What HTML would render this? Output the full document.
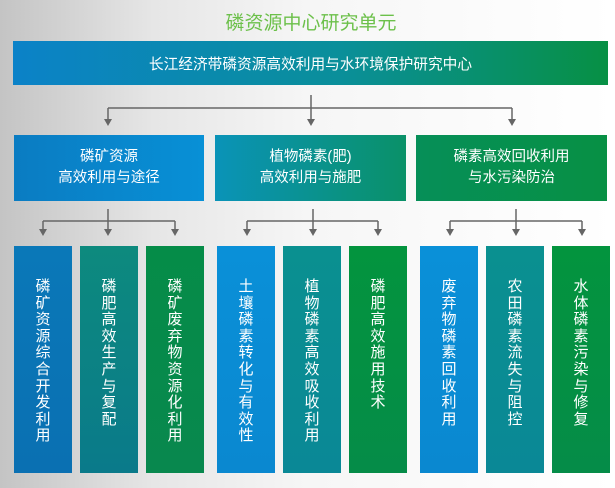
<!DOCTYPE html>
<html><head><meta charset="utf-8"><style>
body{margin:0;width:615px;height:488px;overflow:hidden;background:linear-gradient(90deg,#c4c4c4 0%,#e6e6e6 25%,#f6f6f6 50%,#ffffff 100%);font-family:"Liberation Sans","Noto Sans CJK SC",sans-serif;position:relative}
.b{position:absolute;color:#fff;text-align:center;display:flex;align-items:center;justify-content:center}
.v{position:absolute;top:246px;height:227px;width:58px;color:#fff;font-size:15px;line-height:16.6px;text-align:center;padding-top:33px;box-sizing:border-box}
.v span{display:block;width:16px;margin:0 auto;word-break:break-all}
</style></head><body>
<div style="position:absolute;top:8px;left:0;width:622px;text-align:center;color:#6cc04a;font-size:19px">磷资源中心研究单元</div>
<div class="b" style="left:13px;top:41px;width:595px;height:44px;background:linear-gradient(90deg,#0b82c8,#0a8f9a 55%,#079044);font-size:14.7px">长江经济带磷资源高效利用与水环境保护研究中心</div>
<div class="b" style="left:14px;top:135px;width:190px;height:66px;background:linear-gradient(90deg,#0a7cc2,#0890d6);font-size:14.5px;line-height:21px">磷矿资源<br>高效利用与途径</div>
<div class="b" style="left:215px;top:135px;width:191px;height:66px;background:linear-gradient(90deg,#0a93b8,#0a9168);font-size:14.5px;line-height:21px">植物磷素(肥)<br>高效利用与施肥</div>
<div class="b" style="left:416px;top:135px;width:191px;height:66px;background:linear-gradient(90deg,#068f58,#079044);font-size:14.5px;line-height:21px">磷素高效回收利用<br>与水污染防治</div>
<svg style="position:absolute;left:0;top:0" width="615" height="488">
<g stroke="#666" stroke-width="1.5" fill="none">
<path d="M311 95V119M108 108H512M108 108V120M311 108V120M512 108V120"/>
<path d="M108 209V231M43 221H175M43 221V230M108 221V230M175 221V230"/>
<path d="M313 209V231M247 221H378M247 221V230M313 221V230M378 221V230"/>
<path d="M516 209V231M450 221H582M450 221V230M516 221V230M582 221V230"/>
</g>
<g fill="#666">
<path d="M104 119h8l-4 7z M307 119h8l-4 7z M508 119h8l-4 7z"/>
<path d="M39 229h8l-4 7z M104 229h8l-4 7z M171 229h8l-4 7z"/>
<path d="M243 229h8l-4 7z M309 229h8l-4 7z M374 229h8l-4 7z"/>
<path d="M446 229h8l-4 7z M512 229h8l-4 7z M578 229h8l-4 7z"/>
</g></svg>
<div class="v" style="left:14px;background:linear-gradient(180deg,#0a78b8,#0a70b2)"><span>磷矿资源综合开发利用</span></div>
<div class="v" style="left:80px;background:linear-gradient(180deg,#0d8a7e,#0a7a8a)"><span>磷肥高效生产与复配</span></div>
<div class="v" style="left:146px;background:linear-gradient(180deg,#058c48,#08884e)"><span>磷矿废弃物资源化利用</span></div>
<div class="v" style="left:217px;background:linear-gradient(180deg,#0a90d8,#0a88d0)"><span>土壤磷素转化与有效性</span></div>
<div class="v" style="left:283px;background:linear-gradient(180deg,#0a9090,#0a8896)"><span>植物磷素高效吸收利用</span></div>
<div class="v" style="left:349px;background:linear-gradient(180deg,#03943e,#058c48)"><span>磷肥高效施用技术</span></div>
<div class="v" style="left:420px;background:linear-gradient(180deg,#0a90d8,#0a88d0)"><span>废弃物磷素回收利用</span></div>
<div class="v" style="left:486px;background:linear-gradient(180deg,#0a9090,#0a8896)"><span>农田磷素流失与阻控</span></div>
<div class="v" style="left:552px;background:linear-gradient(180deg,#03943e,#058c48)"><span>水体磷素污染与修复</span></div>
</body></html>
